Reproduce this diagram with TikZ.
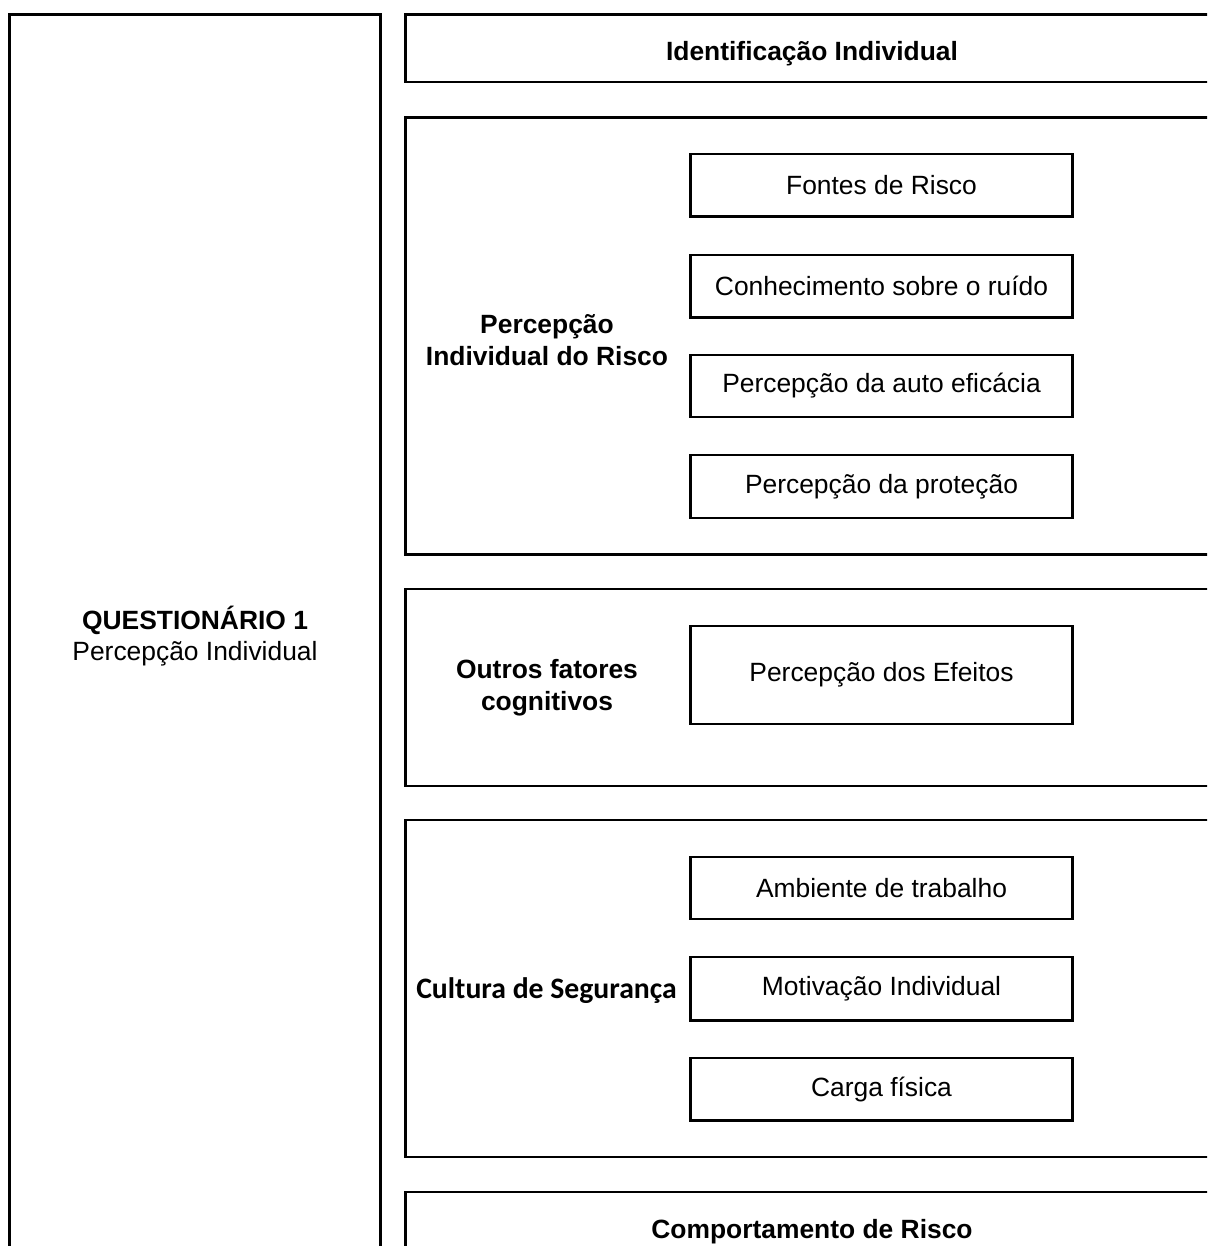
\documentclass[tikz,border=0pt]{standalone}
\usepackage{fontspec}
\setmainfont{Liberation Sans}
\newfontfamily\calibrifont{Carlito}
\begin{document}
\begin{tikzpicture}[x=1pt,y=-1pt,
  outer/.style={draw, line width=2.7pt, inner sep=0pt, outer sep=0pt, anchor=north west, minimum width=#1},
  outer/.default=830,
  inner/.style={draw, line width=2.2pt, inner sep=0pt, outer sep=0pt, anchor=north west,
    minimum width=382, align=center, font=\fontsize{26.4}{31.7}\selectfont},
  txt/.style={inner sep=0pt, align=center, font=\fontsize{26.4}{31.7}\selectfont},
  btxt/.style={txt, font=\fontsize{26.4}{31.7}\selectfont\bfseries}]
\useasboundingbox (0,0) rectangle (1207,1246);
\clip (0,0) rectangle (1207,1246);

% left column
\node[outer=371.2, minimum height=1280] (q) at (9.5,14.7) {};
\node[txt] (qlabel) at (195,636) {\textbf{QUESTIONÁRIO 1}\\Percepção Individual};

% right column: section frames
\node[outer, minimum height=67.3] (ident) at (405.3,14.7) {};
\node[btxt] (identlabel) at (812,54) {Identificação Individual};

\node[outer, minimum height=437] (risco) at (405.3,117.5) {};
\node[btxt] (riscolabel) at (547,340) {Percepção\\Individual do Risco};

\node[outer, minimum height=197] (outros) at (405.3,589) {};
\node[btxt] (outroslabel) at (547,688) {Outros fatores\\cognitivos};

\node[outer, minimum height=337] (cultura) at (405.3,820) {};
\node[txt, font=\fontsize{29.7}{35}\selectfont\calibrifont\bfseries] (culturalabel) at (546.5,991) {Cultura de Segurança};

\node[outer, minimum height=120] (comport) at (405.3,1192) {};
\node[btxt] (comportlabel) at (812,1232) {Comportamento de Risco};

% items inside the sections
\node[inner, minimum height=62.5] (fontes) at (690.5,154) {Fontes de Risco};
\node[inner, minimum height=62.5] (conhec) at (690.5,255) {Conhecimento sobre o ruído};
\node[inner, minimum height=62] (auto) at (690.5,355) {Percepção da auto eficácia};
\node[inner, minimum height=63] (protec) at (690.5,455) {Percepção da proteção};

\node[inner, minimum height=98] (efeitos) at (690.5,626) {Percepção dos Efeitos};

\node[inner, minimum height=62] (ambiente) at (690.5,857) {Ambiente de trabalho};
\node[inner, minimum height=63.5] (motiv) at (690.5,957) {Motivação Individual};
\node[inner, minimum height=62.5] (carga) at (690.5,1058) {Carga física};
\end{tikzpicture}
\end{document}
